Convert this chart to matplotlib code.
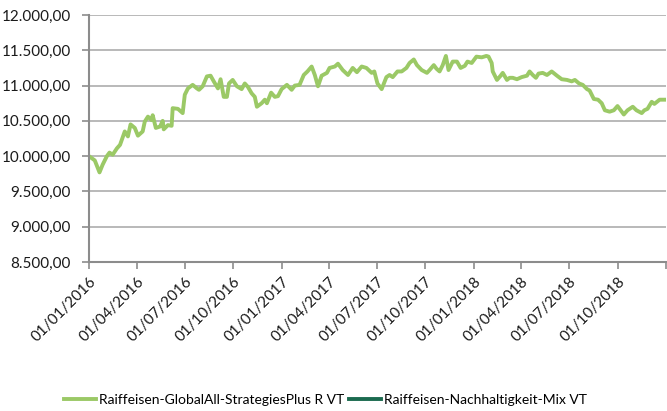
import matplotlib
matplotlib.use('Agg')
from matplotlib import pyplot as plt
from matplotlib.ticker import FuncFormatter
import pandas as pd

plt.rcParams['font.family'] = ['Lato', 'DejaVu Sans']

# Fund value history (index, start = 10.000)
fund_name = 'Raiffeisen-GlobalAll-StrategiesPlus R VT'
peer_name = 'Raiffeisen-Nachhaltigkeit-Mix VT'

fund_dates = [
    '2016-01-01', '2016-01-12', '2016-01-21', '2016-01-27', '2016-02-04', '2016-02-09', '2016-02-15',
    '2016-02-23', '2016-02-29', '2016-03-09', '2016-03-15', '2016-03-20', '2016-03-28', '2016-04-03',
    '2016-04-12', '2016-04-16', '2016-04-22', '2016-04-29', '2016-05-01', '2016-05-07', '2016-05-15',
    '2016-05-20', '2016-05-22', '2016-05-30', '2016-06-06', '2016-06-08', '2016-06-18', '2016-06-27',
    '2016-07-01', '2016-07-07', '2016-07-16', '2016-07-24', '2016-07-28', '2016-08-04', '2016-08-12',
    '2016-08-19', '2016-08-25', '2016-09-02', '2016-09-07', '2016-09-13', '2016-09-19', '2016-09-23',
    '2016-09-30', '2016-10-08', '2016-10-17', '2016-10-23', '2016-10-29', '2016-11-05', '2016-11-11',
    '2016-11-15', '2016-11-24', '2016-11-30', '2016-12-04', '2016-12-12', '2016-12-19', '2016-12-25',
    '2017-01-01', '2017-01-11', '2017-01-20', '2017-01-26', '2017-02-04', '2017-02-12', '2017-02-19',
    '2017-02-27', '2017-03-05', '2017-03-11', '2017-03-18', '2017-03-28', '2017-04-02', '2017-04-12',
    '2017-04-18', '2017-04-27', '2017-05-07', '2017-05-16', '2017-05-24', '2017-06-02', '2017-06-11',
    '2017-06-21', '2017-06-26', '2017-07-02', '2017-07-10', '2017-07-19', '2017-07-25', '2017-07-31',
    '2017-08-09', '2017-08-17', '2017-08-26', '2017-09-01', '2017-09-09', '2017-09-15', '2017-09-24',
    '2017-10-04', '2017-10-09', '2017-10-17', '2017-10-22', '2017-10-28', '2017-11-03', '2017-11-09',
    '2017-11-14', '2017-11-22', '2017-11-30', '2017-12-07', '2017-12-15', '2017-12-20', '2017-12-28',
    '2018-01-06', '2018-01-16', '2018-01-25', '2018-01-29', '2018-02-04', '2018-02-06', '2018-02-14',
    '2018-02-21', '2018-02-25', '2018-03-05', '2018-03-10', '2018-03-16', '2018-03-24', '2018-04-02',
    '2018-04-12', '2018-04-17', '2018-04-23', '2018-04-29', '2018-05-04', '2018-05-12', '2018-05-20',
    '2018-05-29', '2018-06-08', '2018-06-17', '2018-06-27', '2018-07-06', '2018-07-12', '2018-07-20',
    '2018-07-27', '2018-08-04', '2018-08-09', '2018-08-17', '2018-08-25', '2018-09-01', '2018-09-07',
    '2018-09-16', '2018-09-24', '2018-10-01', '2018-10-07', '2018-10-13', '2018-10-20', '2018-10-30',
    '2018-11-06', '2018-11-16', '2018-11-21', '2018-11-27', '2018-12-05', '2018-12-10', '2018-12-20',
    '2018-12-31',
]

fund_values = [
    10000, 9940, 9770, 9880, 10000, 10050, 10020, 10110, 10160, 10350, 10280, 10450, 10400, 10290,
    10350, 10490, 10560, 10510, 10580, 10400, 10420, 10500, 10380, 10440, 10430, 10680, 10670, 10610,
    10870, 10960, 11010, 10960, 10940, 10990, 11130, 11140, 11060, 10960, 11090, 10840, 10840, 11030,
    11080, 10990, 10950, 11030, 10980, 10890, 10840, 10700, 10750, 10800, 10750, 10900, 10840, 10850,
    10950, 11010, 10940, 11000, 11010, 11150, 11200, 11270, 11150, 10990, 11140, 11180, 11250, 11270,
    11310, 11220, 11150, 11250, 11190, 11270, 11250, 11180, 11200, 11030, 10950, 11120, 11150, 11120,
    11200, 11200, 11250, 11320, 11370, 11290, 11220, 11180, 11220, 11290, 11240, 11200, 11290, 11420,
    11220, 11340, 11340, 11250, 11280, 11340, 11320,
    11410, 11400, 11420, 11410, 11320, 11200, 11080, 11140, 11180, 11080, 11110, 11110, 11090, 11120,
    11140, 11200, 11150, 11110, 11170, 11180, 11150, 11200, 11140, 11090, 11080, 11060, 11080, 11030,
    11010, 10950, 10930, 10810, 10800, 10750, 10650, 10630, 10650, 10710, 10650, 10590, 10650, 10700,
    10650, 10610, 10650, 10670, 10770, 10740, 10800, 10800,
]

# no values available for the second fund in this period
peer_dates = []
peer_values = []

y_ticks = [8500, 9000, 9500, 10000, 10500, 11000, 11500, 12000]

fund = pd.Series(fund_values, index=pd.to_datetime(fund_dates))
peer = pd.Series(peer_values, index=pd.to_datetime(peer_dates), dtype=float)

fig = plt.figure(figsize=(6.67, 4.11), dpi=100)
ax = fig.add_axes([0.1334, 0.3625, 0.865, 0.601])

ax.plot(fund.index, fund.values, color='#9BC966', linewidth=2.8, label=fund_name,
        solid_joinstyle='round')
ax.plot(peer.index, peer.values, color='#1B6A4F', linewidth=2.8, label=peer_name)

ax.set_ylim(8500, 12000)
ax.set_yticks(y_ticks)
# German number format: 12.000,00
ax.yaxis.set_major_formatter(FuncFormatter(
    lambda v, pos: f"{v:,.2f}".replace(',', 'X').replace('.', ',').replace('X', '.')))
ax.set_xlim(pd.Timestamp('2016-01-01'), pd.Timestamp('2019-01-01'))

x_ticks = pd.date_range('2016-01-01', '2019-01-01', freq='3MS')
ax.set_xticks(x_ticks)
ax.set_xticklabels([d.strftime('%d/%m/%Y') for d in x_ticks[:-1]] + [''])
plt.setp(ax.get_xticklabels(), rotation=45, ha='right', va='top', rotation_mode='anchor')

ax.grid(axis='y', color='#A6A6A6', linewidth=1.1)
ax.set_axisbelow(True)
for side in ['top', 'right']:
    ax.spines[side].set_visible(False)
for side in ['left', 'bottom']:
    ax.spines[side].set_color('#8C8C8C')
    ax.spines[side].set_linewidth(1.5)
ax.tick_params(axis='both', colors='#8C8C8C', length=5, width=1.2, labelsize=11,
               labelcolor='#1a1a1a')
ax.tick_params(axis='y', pad=8)
ax.tick_params(axis='x', pad=4)

fig.legend(loc='center', bbox_to_anchor=(0.488, 0.026), ncol=2, frameon=False,
           fontsize=10, handlelength=2.3, handletextpad=0.25, columnspacing=0.3,
           borderaxespad=0, borderpad=0)

plt.savefig('out.png', dpi=100)
